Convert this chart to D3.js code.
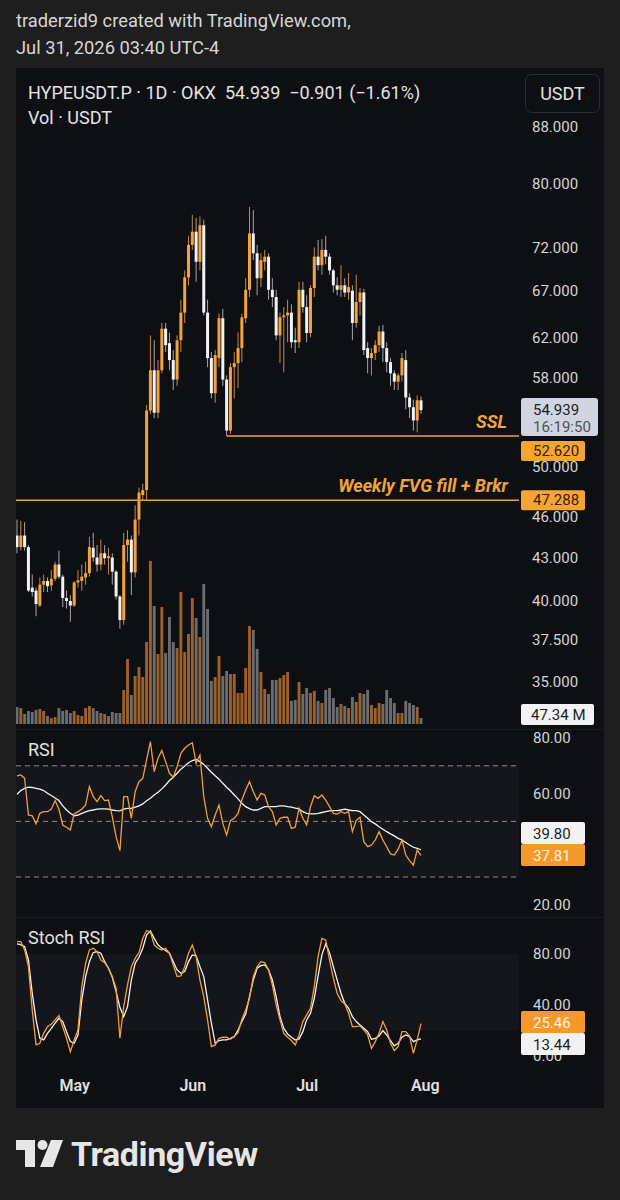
<!DOCTYPE html>
<html><head><meta charset="utf-8">
<script src="https://cdn.jsdelivr.net/npm/d3@7"></script>
<style>
html,body{margin:0;padding:0;background:#1e1e1e;}
svg{display:block;}
text{font-family:Roboto,"Noto Sans",sans-serif;white-space:pre;}
</style></head><body>
<svg id="c" width="620" height="1200"></svg>
<script>
// ---------------- DATA ----------------
const startDate = new Date(2026, 3, 16); // first daily candle
const open = [44.6,43.75,44.6,43.75,40.9,40.7,39.7,41.1,41.35,41.05,
41.5,42.5,41.65,40.2,40.0,39.7,41.25,41.35,41.6,41.9,
43.7,43.0,42.5,43.3,42.95,43.0,42.0,40.3,38.75,43.9,
44.3,41.95,45.8,47.7,48.1,54.9,58.7,54.7,58.7,62.9,
61.4,59.7,57.8,61.7,64.6,68.5,72.3,73.9,70.3,74.7,
64.6,59.9,56.5,59.9,64.0,57.8,53.1,59.0,59.4,60.9,
64.0,67.1,73.7,71.3,68.4,70.3,70.9,67.1,66.3,62.2,
64.1,64.3,64.6,61.7,61.5,67.1,65.2,62.45,67.3,70.9,
69.9,71.7,70.9,69.3,67.6,67.1,67.6,66.8,67.0,63.5,
65.75,66.8,60.9,59.9,60.4,61.2,62.6,60.9,59.5,58.4,
57.6,58.2,59.7,56.1,55.2,54.0,55.84];
const high = [45.8,45.7,45.6,43.9,41.8,40.9,41.6,41.8,41.6,42.1,
42.7,43.5,41.8,40.7,40.4,41.35,42.1,42.5,42.7,44.5,
44.8,43.9,44.3,43.9,43.7,43.3,42.1,40.4,44.8,45.0,
44.6,46.9,48.3,48.6,55.4,62.2,61.7,59.7,63.5,63.5,
62.5,60.7,62.2,66.0,69.3,73.4,76.0,75.6,75.8,75.4,
66.0,60.5,60.7,64.5,65.0,58.2,59.4,60.5,62.5,64.5,
68.4,77.0,76.6,72.3,71.3,71.7,71.3,68.4,67.1,64.6,
65.2,66.0,65.5,63.0,68.0,68.0,66.5,67.6,72.0,72.9,
73.0,73.4,71.3,69.5,68.5,69.9,68.4,69.0,67.6,68.8,
67.3,67.2,61.5,60.9,61.7,63.2,63.3,61.5,59.9,58.7,
58.4,60.4,60.7,56.5,55.9,56.3,56.2];
const low = [43.3,43.5,43.5,40.6,40.3,39.0,39.6,40.6,40.6,40.7,
41.35,41.5,39.6,39.5,38.65,39.6,40.9,40.7,41.1,41.65,
42.7,42.0,42.1,42.5,41.8,41.1,40.1,38.2,38.45,42.7,
40.4,41.6,44.6,47.3,47.3,54.6,54.2,54.2,58.4,60.5,
58.7,56.8,57.2,60.5,63.5,67.6,71.7,68.0,69.3,64.3,
59.0,56.0,55.6,59.0,57.2,52.62,52.8,56.0,57.0,59.5,
63.5,66.3,70.5,66.5,67.4,69.3,66.0,65.2,61.7,59.4,
58.5,61.5,60.9,60.4,60.9,64.6,61.5,62.0,66.3,69.3,
68.8,70.0,68.8,66.8,66.5,66.3,66.3,66.0,61.7,63.0,
64.3,60.2,58.4,58.2,59.7,60.5,59.5,58.5,57.2,56.8,
56.8,57.6,55.0,54.2,53.1,52.95,54.6];
const close = [43.75,44.6,43.75,40.7,40.6,39.8,41.1,41.35,41.0,41.5,
42.5,41.65,40.2,40.0,39.7,41.25,41.4,41.65,41.9,43.75,
43.0,42.5,43.3,42.95,43.1,42.0,40.3,38.75,43.9,44.3,
41.95,45.8,47.9,48.1,54.9,58.7,54.7,58.7,62.9,61.2,
59.7,57.8,61.7,64.6,68.5,72.3,73.9,70.3,74.7,64.6,
59.9,56.5,60.2,64.0,57.8,53.1,59.0,59.4,60.9,64.1,
67.1,73.7,71.3,68.4,70.5,70.9,67.1,66.3,62.2,64.1,
64.3,64.6,61.5,61.5,67.1,65.2,62.45,67.3,70.9,69.9,
71.7,70.9,69.3,67.6,67.1,67.6,66.8,67.4,63.5,65.75,
66.8,60.7,59.9,60.4,61.2,62.6,60.9,59.5,58.4,57.6,
58.2,59.9,56.1,55.2,54.0,55.84,54.939];
// volume in millions USDT
const volume = [134,126,79,103,95,111,119,103,63,47,
55,126,103,111,87,103,71,63,126,142,
126,103,87,79,63,95,87,87,269,514,
229,379,450,371,648,1288,932,553,924,561,
845,648,600,1043,569,711,995,837,687,1106,
909,340,371,537,379,419,395,395,245,245,
442,774,743,593,411,277,237,348,348,363,
387,411,182,190,332,237,284,245,261,182,
166,269,284,205,134,158,142,126,213,174,
245,237,269,150,126,166,158,269,205,166,
87,87,182,166,150,134,47.34];
const rsi = [66.4,66.7,65.5,52.3,52.0,49.1,52.9,53.5,53.5,54.4,
57.5,54.4,48.7,47.9,46.9,52.7,53.5,54.4,55.9,62.5,
58.9,57.1,59.3,57.5,57.7,51.7,44.5,39.5,58.9,58.9,
51.1,60.7,64.3,65.5,72.1,78.7,67.9,72.7,75.5,71.5,
67.3,65.9,69.7,74.5,76.3,77.5,78.3,70.9,73.9,58.9,
51.1,48.1,52.3,55.9,49.3,45.1,50.3,51.1,52.9,57.7,
61.3,64.3,60.7,57.7,60.1,59.5,55.3,53.5,48.7,51.1,
51.5,51.5,47.5,47.9,54.7,51.1,48.7,55.3,59.2,58.3,
59.5,57.7,55.3,52.9,52.6,53.5,52.9,53.5,46.3,50.3,
51.5,42.7,40.9,41.5,43.3,46.3,43.3,40.9,38.3,37.9,
40.0,43.3,37.9,35.9,34.3,39.7,37.81];
const rsiMA = [59.8,61.1,61.9,62.3,62.2,61.9,61.6,61.1,60.1,59.3,
58.4,57.5,55.6,54.1,52.9,52.0,52.3,52.9,53.4,53.9,
54.1,54.4,54.5,54.5,54.4,54.1,53.9,53.8,54.4,54.7,
54.7,55.1,55.6,56.3,57.4,58.3,59.5,60.5,61.7,63.1,
64.7,65.9,67.3,68.8,69.9,71.1,71.9,72.3,71.5,70.5,
69.1,67.7,66.4,65.2,63.7,62.3,61.0,59.5,58.1,56.5,
55.3,54.6,54.1,54.1,54.7,55.3,55.3,55.3,55.3,55.6,
55.6,55.3,55.1,54.8,54.5,53.5,52.9,52.7,52.7,52.9,
53.2,53.5,53.8,53.9,53.9,54.1,54.4,54.1,53.9,53.9,
53.5,52.3,51.1,49.9,49.1,48.1,47.2,46.3,45.5,44.8,
43.9,43.3,42.4,41.5,40.7,40.3,39.80];
const stochK = [89.7,89.7,83.2,70.1,36.1,8.7,10.0,17.8,23.0,24.9,
28.3,31.7,23.0,13.9,3.4,12.6,20.4,54.4,72.7,83.2,
84.5,81.9,75.3,73.2,68.8,62.3,53.1,13.9,38.7,55.7,
70.1,76.6,81.1,92.3,98.3,97.5,87.1,84.5,83.2,84.5,
80.6,71.4,62.3,62.8,70.1,80.6,87.1,77.9,59.6,46.6,
28.3,7.4,8.7,13.9,14.7,14.7,13.1,15.2,18.3,28.8,
36.1,45.3,62.3,70.1,74.0,73.2,67.5,55.7,40.0,28.3,
17.8,14.7,12.1,8.7,16.5,27.0,32.2,37.4,54.4,77.9,
92.3,91.0,75.3,61.0,49.2,43.4,40.8,33.5,23.0,23.0,
23.6,20.4,16.5,6.0,11.3,17.8,27.0,20.4,10.0,4.2,
7.4,19.1,19.1,15.7,2.1,12.6,25.46];
const stochD = [87.9,87.4,85.8,75.3,49.2,28.3,13.9,12.6,17.8,21.7,
25.7,29.6,27.0,19.1,11.3,10.0,16.5,44.0,62.3,74.0,
81.1,81.9,80.6,74.0,68.8,61.7,50.5,38.2,30.9,38.7,
59.6,72.7,77.4,84.5,94.9,98.1,92.3,87.1,84.5,82.7,
80.6,74.0,67.5,64.9,66.2,74.0,79.3,78.5,70.1,62.3,
44.0,25.7,10.0,12.1,12.6,12.6,13.9,15.2,20.4,27.0,
33.0,46.6,59.6,68.8,70.9,71.4,67.5,59.6,46.6,30.9,
21.7,17.3,14.7,12.6,13.4,19.1,28.3,33.5,45.3,62.8,
79.3,87.9,81.1,70.1,59.6,49.2,41.3,37.4,30.9,27.0,
24.4,21.7,19.1,13.1,13.9,15.7,19.9,16.5,12.1,7.9,
10.0,14.7,16.5,15.2,11.3,12.6,13.44];
const priceTicks = [88, 80, 72, 67, 62, 58, 50, 46, 43, 40, 37.5, 35];
const rsiTicks = [80, 60, 20];
const stochTicks = [80, 40, 0];
const monthTicks = [new Date(2026,4,1), new Date(2026,5,1), new Date(2026,6,1), new Date(2026,7,1)];
const sslLevel = 52.620;
const fvgLevel = 47.288;
const lastPrice = 54.939;
const lastVolLabel = "47.34 M";
const countdown = "16:19:50";

// ---------------- SETUP ----------------
const svg = d3.select("#c");
const ORANGE = "#f2a33c", WHITE = "#f2f2f2";
const dates = d3.range(close.length).map(i => d3.timeDay.offset(startDate, i));
const last = close.length - 1;

const x = d3.scaleTime().domain([dates[0], dates[last]]).range([17, 421]);
const y = d3.scaleLog().domain([80, 40]).range([184, 601]);
const yv = d3.scaleLinear().domain([0, 1300]).range([724, 559.4]);
const yr = d3.scaleLinear().domain([80, 20]).range([738, 904.8]);
const ys = d3.scaleLinear().domain([80, 0]).range([954, 1056]);

// header
svg.append("text").attr("x",16).attr("y",27).attr("fill","#d6d6d6").attr("font-size",18.3)
  .text("traderzid9 created with TradingView.com,");
svg.append("text").attr("x",16).attr("y",54).attr("fill","#d6d6d6").attr("font-size",18.3)
  .text("Jul 31, 2026 03:40 UTC-4");

// panel
svg.append("rect").attr("x",16).attr("y",68).attr("width",588).attr("height",1040).attr("fill","#0e0f13");
svg.append("line").attr("x1",16).attr("x2",604).attr("y1",729.5).attr("y2",729.5).attr("stroke","#1b1c21");
svg.append("line").attr("x1",16).attr("x2",604).attr("y1",917.5).attr("y2",917.5).attr("stroke","#1b1c21");

// legend
svg.append("text").attr("x",28).attr("y",99).attr("fill","#e2e2e2").attr("font-size",18)
  .text("HYPEUSDT.P · 1D · OKX  54.939  −0.901 (−1.61%)");
svg.append("text").attr("x",28).attr("y",124).attr("fill","#e2e2e2").attr("font-size",18).text("Vol · USDT");
svg.append("rect").attr("x",525.5).attr("y",74.5).attr("width",74).attr("height",38).attr("rx",6)
  .attr("fill","#0e0f13").attr("stroke","#2c2d33");
svg.append("text").attr("x",562.5).attr("y",100).attr("text-anchor","middle").attr("fill","#e2e2e2").attr("font-size",18).text("USDT");

// clip for main area
svg.append("clipPath").attr("id","main").append("rect").attr("x",16).attr("y",68).attr("width",503).attr("height",660);
const g = svg.append("g").attr("clip-path","url(#main)");

const up = i => close[i] >= open[i];
const idx = d3.range(close.length);

// volume
g.selectAll("rect.vol").data(idx).join("rect").attr("class","vol")
  .attr("x", i => x(dates[i]) - 1.45).attr("width", 2.9)
  .attr("y", i => yv(volume[i])).attr("height", i => yv(0) - yv(volume[i]))
  .attr("fill", i => up(i) ? "#9b6128" : "#6b6c70");

// level lines
g.append("line").attr("x1", x(dates[55])).attr("x2",519).attr("y1", y(sslLevel)).attr("y2", y(sslLevel))
  .attr("stroke", ORANGE).attr("stroke-width",1.4);
g.append("line").attr("x1", 16).attr("x2",519).attr("y1", y(fvgLevel)).attr("y2", y(fvgLevel))
  .attr("stroke", ORANGE).attr("stroke-width",1.4);

// candles
g.selectAll("line.wick").data(idx).join("line").attr("class","wick")
  .attr("x1", i => x(dates[i])).attr("x2", i => x(dates[i]))
  .attr("y1", i => y(high[i])).attr("y2", i => y(low[i]))
  .attr("stroke", i => up(i) ? "#c48a48" : "#a6a6a8").attr("stroke-width",1);
g.selectAll("rect.body").data(idx).join("rect").attr("class","body")
  .attr("x", i => x(dates[i]) - 1.5).attr("width", 3)
  .attr("y", i => Math.min(y(open[i]), y(close[i])))
  .attr("height", i => Math.max(1, Math.abs(y(open[i]) - y(close[i]))))
  .attr("fill", i => up(i) ? ORANGE : WHITE);

// annotations
svg.append("text").attr("x",507).attr("y",428).attr("text-anchor","end").attr("fill",ORANGE)
  .attr("font-size",18).attr("font-weight","bold").attr("font-style","italic").text("SSL");
svg.append("text").attr("x",508).attr("y",492).attr("text-anchor","end").attr("fill",ORANGE)
  .attr("font-size",18).attr("font-weight","bold").attr("font-style","italic").text("Weekly FVG fill + Brkr");

// price axis
const pa = svg.append("g").attr("transform","translate(528,0)")
  .call(d3.axisRight(y).tickValues(priceTicks).tickFormat(d3.format(".3f")).tickSize(0).tickPadding(4));
pa.select(".domain").remove();
pa.selectAll("text").attr("fill","#d4d4d4").attr("font-size",15).attr("font-family","Roboto");

// price labels
const pY = y(lastPrice);
svg.append("rect").attr("x",521).attr("y",pY-12).attr("width",77).attr("height",38).attr("rx",3).attr("fill","#d0d5df");
svg.append("text").attr("x",533).attr("y",pY+5).attr("fill","#1d1d1f").attr("font-size",15).text(d3.format(".3f")(lastPrice));
svg.append("text").attr("x",533).attr("y",pY+22).attr("fill","#505256").attr("font-size",15).text(countdown);
svg.append("rect").attr("x",521).attr("y",pY+31).attr("width",64).attr("height",20).attr("rx",2).attr("fill","#f6a535");
svg.append("text").attr("x",533).attr("y",pY+46).attr("fill","#3a2208").attr("font-size",15).text(d3.format(".3f")(sslLevel));
svg.append("rect").attr("x",521).attr("y",y(fvgLevel)-10).attr("width",64).attr("height",20).attr("rx",2).attr("fill","#f6a535");
svg.append("text").attr("x",533).attr("y",y(fvgLevel)+5).attr("fill","#3a2208").attr("font-size",15).text(d3.format(".3f")(fvgLevel));
svg.append("rect").attr("x",521).attr("y",yv(volume[last])-14).attr("width",73).attr("height",21).attr("rx",2).attr("fill","#f2f2f2");
svg.append("text").attr("x",531).attr("y",yv(volume[last])+1.5).attr("fill","#1d1d1f").attr("font-size",15).text(lastVolLabel);

// RSI pane
svg.append("rect").attr("x",16).attr("y",yr(70)).attr("width",503).attr("height",yr(30)-yr(70)).attr("fill","#15161b");
[70,50,30].forEach(v => svg.append("line").attr("x1",16).attr("x2",519).attr("y1",yr(v)).attr("y2",yr(v))
  .attr("stroke","#8c8c8c").attr("stroke-dasharray","5,4").attr("stroke-width",1));
const lineR = d3.line().x((d,i) => x(dates[i])).y(d => yr(d));
svg.append("path").datum(rsiMA).attr("d", lineR).attr("fill","none").attr("stroke","#f4f4f4").attr("stroke-width",1.3);
svg.append("path").datum(rsi).attr("d", lineR).attr("fill","none").attr("stroke","#f0a03a").attr("stroke-width",1.3);
svg.append("text").attr("x",28).attr("y",756).attr("fill","#e2e2e2").attr("font-size",18).text("RSI");
const ra = svg.append("g").attr("transform","translate(528,0)")
  .call(d3.axisRight(yr).tickValues(rsiTicks).tickFormat(d3.format(".2f")).tickSize(0).tickPadding(5));
ra.select(".domain").remove();
ra.selectAll("text").attr("fill","#d4d4d4").attr("font-size",15).attr("font-family","Roboto");
svg.append("rect").attr("x",521).attr("y",822).attr("width",64).attr("height",22).attr("rx",2).attr("fill","#f2f2f2");
svg.append("text").attr("x",533).attr("y",838.5).attr("fill","#1d1d1f").attr("font-size",15).text(d3.format(".2f")(rsiMA[last]));
svg.append("rect").attr("x",521).attr("y",844).attr("width",64).attr("height",22).attr("rx",2).attr("fill","#f39a2a");
svg.append("text").attr("x",533).attr("y",860.5).attr("fill","#fdf0e0").attr("font-size",15).text(d3.format(".2f")(rsi[last]));

// Stoch RSI pane
svg.append("rect").attr("x",16).attr("y",ys(80)).attr("width",503).attr("height",ys(20)-ys(80)).attr("fill","#15161b");
const lineS = d3.line().x((d,i) => x(dates[i])).y(d => ys(d));
svg.append("path").datum(stochD).attr("d", lineS).attr("fill","none").attr("stroke","#f4f4f4").attr("stroke-width",1.3);
svg.append("path").datum(stochK).attr("d", lineS).attr("fill","none").attr("stroke","#f0a03a").attr("stroke-width",1.3);
svg.append("text").attr("x",28).attr("y",944).attr("fill","#e2e2e2").attr("font-size",18).text("Stoch RSI");
const sa = svg.append("g").attr("transform","translate(528,0)")
  .call(d3.axisRight(ys).tickValues(stochTicks).tickFormat(d3.format(".2f")).tickSize(0).tickPadding(5));
sa.select(".domain").remove();
sa.selectAll("text").attr("fill","#d4d4d4").attr("font-size",15).attr("font-family","Roboto");
svg.append("rect").attr("x",521).attr("y",1011).attr("width",64).attr("height",22).attr("rx",2).attr("fill","#f39a2a");
svg.append("text").attr("x",533).attr("y",1027.5).attr("fill","#fdf0e0").attr("font-size",15).text(d3.format(".2f")(stochK[last]));
svg.append("rect").attr("x",521).attr("y",1033).attr("width",64).attr("height",22).attr("rx",2).attr("fill","#f2f2f2");
svg.append("text").attr("x",533).attr("y",1049.5).attr("fill","#1d1d1f").attr("font-size",15).text(d3.format(".2f")(stochD[last]));

// time axis
const ta = svg.append("g").attr("transform","translate(0,1078)")
  .call(d3.axisBottom(x).tickValues(monthTicks).tickFormat(d3.timeFormat("%b")).tickSize(0).tickPadding(2));
ta.select(".domain").remove();
ta.selectAll("text").attr("fill","#e0e0e0").attr("font-size",16).attr("font-weight","600").attr("font-family","Roboto");

// TradingView logo
const lg = svg.append("g").attr("fill","#e6e6e6");
lg.append("path").attr("d","M16,1140 H35 V1167 H25 V1150 H16 Z");
lg.append("circle").attr("cx",42.5).attr("cy",1145).attr("r",5);
lg.append("path").attr("d","M51,1140 H63 L53,1167 H40 Z");
svg.append("text").attr("x",71).attr("y",1166).attr("fill","#e6e6e6").attr("font-size",34)
  .attr("font-weight","bold").attr("letter-spacing","-0.4").text("TradingView");
</script>
</body></html>
